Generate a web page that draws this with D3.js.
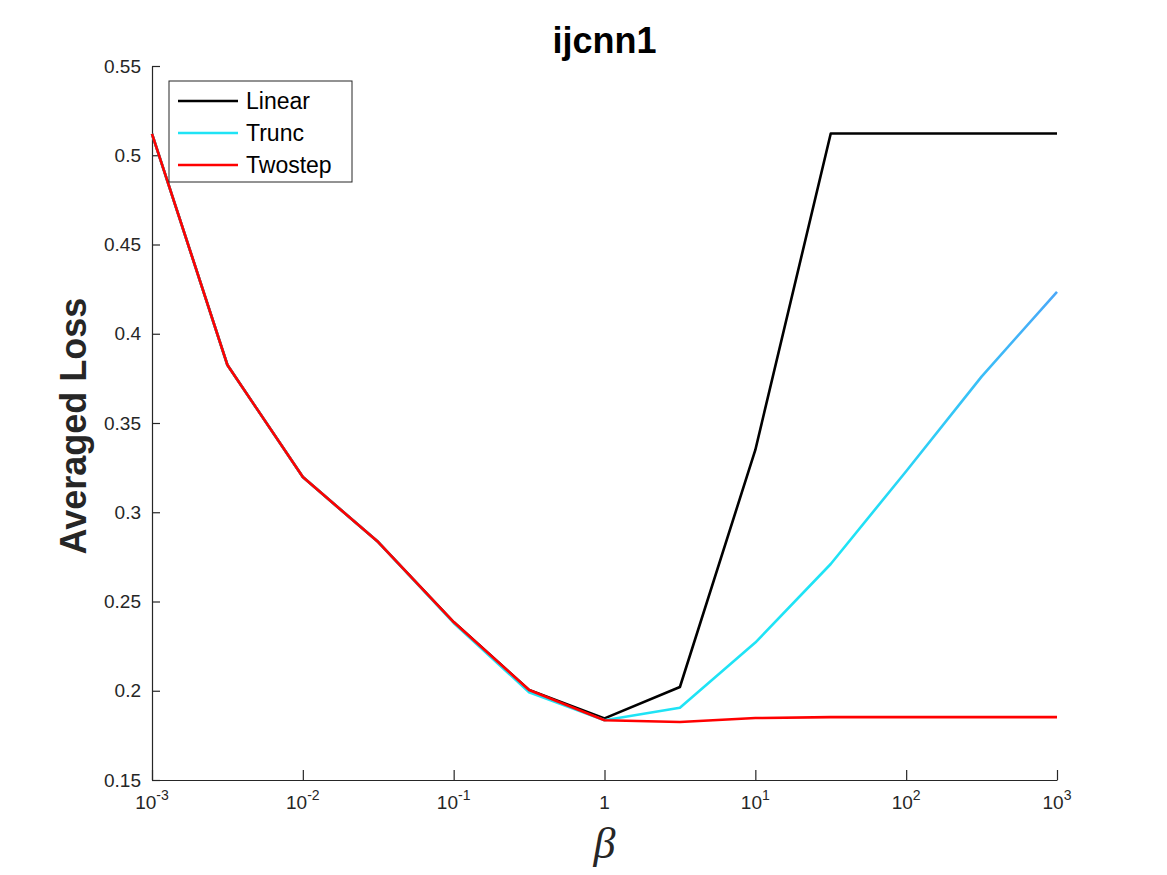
<!DOCTYPE html>
<html>
<head>
<meta charset="utf-8">
<script src="https://cdn.jsdelivr.net/npm/d3@7"></script>
<style>
  body { margin: 0; background: #fff; }
  text { font-family: "Liberation Sans", Arial, Helvetica, sans-serif; }
</style>
</head>
<body>
<div id="chart"></div>
<script>
// beta values (half decades from 1e-3 to 1e3)
var betas = [1e-3, 3.162e-3, 1e-2, 3.162e-2, 1e-1, 3.162e-1, 1, 3.162, 10, 31.62, 100, 316.2, 1000];
var linearLoss = [0.512, 0.3825, 0.3197, 0.2833, 0.2385, 0.2004, 0.1845, 0.2021, 0.3349, 0.5122, 0.5122, 0.5122, 0.5122];
var truncLoss = [0.512, 0.3825, 0.3197, 0.2833, 0.2380, 0.1992, 0.1835, 0.1905, 0.2270, 0.2710, 0.3230, 0.3760, 0.4235];
var twostepLoss = [0.512, 0.3825, 0.3197, 0.2833, 0.2385, 0.2004, 0.1835, 0.1825, 0.1847, 0.1852, 0.1852, 0.1852, 0.1852];
var yTicks = [0.15, 0.2, 0.25, 0.3, 0.35, 0.4, 0.45, 0.5, 0.55];
var xTicks = [1e-3, 1e-2, 1e-1, 1, 10, 100, 1000];
var xTickExp = ["-3", "-2", "-1", "", "1", "2", "3"];

var series = [
  { name: "Linear", values: linearLoss, color: "#000000" },
  { name: "Trunc", values: truncLoss, color: "url(#truncGrad)", legendColor: "#1fe3f5" },
  { name: "Twostep", values: twostepLoss, color: "#ff0000" }
];

var svgWidth = 1167;
var svgHeight = 875;
var margin = { top: 66, right: 110, bottom: 95, left: 152 };
var width = svgWidth - margin.left - margin.right;
var height = svgHeight - margin.top - margin.bottom;

var svg = d3.select("#chart")
  .append("svg")
  .attr("width", svgWidth)
  .attr("height", svgHeight);

var chartGroup = svg.append("g")
  .attr("transform", `translate(${margin.left}, ${margin.top})`);

var xScale = d3.scaleLog()
  .domain([1e-3, 1e3])
  .range([0, width]);

var yScale = d3.scaleLinear()
  .domain([0.15, 0.55])
  .range([height, 0]);

// gradient for the Trunc line (cyan shading to light blue at the right)
var grad = svg.append("defs").append("linearGradient")
  .attr("id", "truncGrad")
  .attr("gradientUnits", "userSpaceOnUse")
  .attr("x1", xScale(1)).attr("x2", xScale(1000))
  .attr("y1", 0).attr("y2", 0);
grad.append("stop").attr("offset", "0.55").attr("stop-color", "#1fe3f5");
grad.append("stop").attr("offset", "1").attr("stop-color", "#4aa8f8");

// axes (inward ticks, no box)
var leftAxis = d3.axisLeft(yScale)
  .tickValues(yTicks)
  .tickSizeInner(-8)
  .tickSizeOuter(0)
  .tickPadding(11)
  .tickFormat(d3.format(""));

var yAxisG = chartGroup.append("g").call(leftAxis);
yAxisG.selectAll("text").attr("font-size", "19px").attr("fill", "#262626");

var bottomAxis = d3.axisBottom(xScale)
  .tickValues(xTicks)
  .tickSizeInner(-10)
  .tickSizeOuter(0)
  .tickFormat("");

var xAxisG = chartGroup.append("g")
  .attr("transform", `translate(0, ${height})`)
  .call(bottomAxis);

[yAxisG, xAxisG].forEach(function(g) {
  g.select(".domain").attr("stroke", "#262626").attr("stroke-width", 1.2);
  g.selectAll(".tick line").attr("stroke", "#262626").attr("stroke-width", 1.2);
});

// x tick labels with superscripts
xTicks.forEach(function(t, i) {
  var lbl = chartGroup.append("text")
    .attr("x", xScale(t))
    .attr("y", height + 29)
    .attr("text-anchor", "middle")
    .attr("font-size", "19px")
    .attr("fill", "#262626");
  if (xTickExp[i] === "") {
    lbl.text("1");
  } else {
    lbl.append("tspan").text("10");
    lbl.append("tspan").attr("dy", "-9").attr("font-size", "14px").text(xTickExp[i]);
  }
});

// lines
var line = d3.line()
  .x(function(d, i) { return xScale(betas[i]); })
  .y(function(d) { return yScale(d); });

series.forEach(function(s) {
  chartGroup.append("path")
    .datum(s.values)
    .attr("fill", "none")
    .attr("stroke", s.color)
    .attr("stroke-width", 2.6)
    .attr("stroke-linejoin", "round")
    .attr("d", line);
});

// title and axis labels
svg.append("text")
  .attr("x", margin.left + width / 2)
  .attr("y", 53)
  .attr("text-anchor", "middle")
  .attr("font-size", "36px")
  .attr("font-weight", "bold")
  .text("ijcnn1");

svg.append("text")
  .attr("transform", `translate(86, ${margin.top + height / 2 + 3}) rotate(-90)`)
  .attr("text-anchor", "middle")
  .attr("font-size", "36px")
  .attr("font-weight", "bold")
  .attr("fill", "#262626")
  .text("Averaged Loss");

svg.append("text")
  .attr("x", margin.left + width / 2)
  .attr("y", 858)
  .attr("text-anchor", "middle")
  .attr("font-size", "44px")
  .attr("font-style", "italic")
  .style("font-family", "'Liberation Serif', 'DejaVu Serif', serif")
  .attr("fill", "#262626")
  .text("β");

// legend
var legend = svg.append("g").attr("transform", "translate(169, 81)");
legend.append("rect")
  .attr("width", 183)
  .attr("height", 101)
  .attr("fill", "#fff")
  .attr("stroke", "#262626")
  .attr("stroke-width", 1);

series.forEach(function(s, i) {
  var yy = 20 + i * 32;
  legend.append("line")
    .attr("x1", 9).attr("x2", 69)
    .attr("y1", yy).attr("y2", yy)
    .attr("stroke", s.legendColor || s.color)
    .attr("stroke-width", 2.6);
  legend.append("text")
    .attr("x", 77)
    .attr("y", yy + 8)
    .attr("font-size", "23px")
    .text(s.name);
});
</script>
</body>
</html>
